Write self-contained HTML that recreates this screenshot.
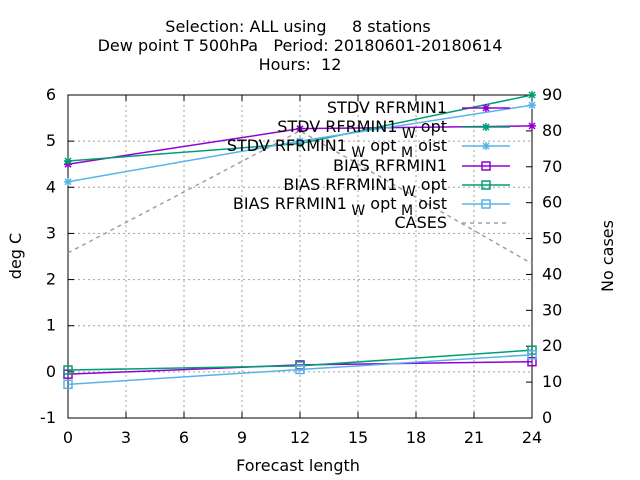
<!DOCTYPE html>
<html><head><meta charset="utf-8"><style>body{margin:0;background:#fff}svg{display:block}text{font-family:"DejaVu Sans","Liberation Sans",sans-serif;font-size:16px;fill:#000;white-space:pre}</style></head>
<body>
<svg id="c" width="640" height="480">
<g>
<text x="298" y="32" text-anchor="middle" xml:space="preserve">Selection: ALL using     8 stations</text>
<text x="300" y="51" text-anchor="middle" xml:space="preserve">Dew point T 500hPa   Period: 20180601-20180614</text>
<text x="300" y="70" text-anchor="middle" xml:space="preserve">Hours:  12</text>
</g>
<g id="grid"></g><g id="axes"></g><g id="series"></g><g id="legend"></g>
<text x="298" y="471" text-anchor="middle">Forecast length</text>
<text transform="translate(21,256) rotate(-90)" text-anchor="middle">deg C</text>
<text transform="translate(613,256) rotate(-90)" text-anchor="middle">No cases</text>
</svg>
<script>
const xTicks=[0,3,6,9,12,15,18,21,24];
const yTicks=[-1,0,1,2,3,4,5,6];
const y2Ticks=[0,10,20,30,40,50,60,70,80,90];
const steps=[0,12,24];
const stdv=[4.5,5.27,5.33];
const stdvW=[4.57,4.95,6.0];
const stdvWM=[4.12,5.0,5.78];
const bias=[-0.05,0.15,0.22];
const biasW=[0.04,0.13,0.47];
const biasWM=[-0.27,0.05,0.37];
const cases=[46,80,43];
const NS='http://www.w3.org/2000/svg';
const L=68,R=532,T=95,B=418;
const X=v=>L+(v-0)/24*(R-L);
const Y=v=>B-(v+1)/7*(B-T);
const Y2=v=>B-v/90*(B-T);
function mk(p,t,a){const e=document.createElementNS(NS,t);for(const k in a)e.setAttribute(k,a[k]);p.appendChild(e);return e;}
const g=document.getElementById('grid'),ax=document.getElementById('axes'),s=document.getElementById('series'),lg=document.getElementById('legend');
xTicks.forEach(t=>{const x=X(t);
 if(t>0&&t<24){const l=mk(g,'line',{x1:x,x2:x,y1:T,y2:B,stroke:'#a0a0a0','stroke-dasharray':'2,3'});}
 mk(ax,'line',{x1:x,x2:x,y1:B,y2:B-6,stroke:'#000'});mk(ax,'line',{x1:x,x2:x,y1:T,y2:T+6,stroke:'#000'});
 const tx=mk(ax,'text',{x:x,y:B+25,'text-anchor':'middle'});tx.textContent=t;});
yTicks.forEach(t=>{const y=Y(t);
 if(t>-1&&t<6){const l=mk(g,'line',{x1:L,x2:R,y1:y,y2:y,stroke:'#a0a0a0','stroke-dasharray':'2,3'});}
 mk(ax,'line',{x1:L,x2:L+6,y1:y,y2:y,stroke:'#000'});
 const tx=mk(ax,'text',{x:L-12,y:y+5,'text-anchor':'end'});tx.textContent=t;});
y2Ticks.forEach(t=>{const y=Y2(t);
 mk(ax,'line',{x1:R,x2:R-6,y1:y,y2:y,stroke:'#000'});
 const tx=mk(ax,'text',{x:R+10,y:y+5,'text-anchor':'start'});tx.textContent=t;});
mk(ax,'rect',{x:L,y:T,width:R-L,height:B-T,fill:'none',stroke:'#000'});
function marker(p,x,y,type,c){
 if(type==='sq')mk(p,'rect',{x:x-4,y:y-4,width:8,height:8,fill:'none',stroke:c,'stroke-width':1.5});
 else{mk(p,'path',{d:`M${x-4} ${y}H${x+4}M${x} ${y-4}V${y+4}M${x-3} ${y-3}L${x+3} ${y+3}M${x-3} ${y+3}L${x+3} ${y-3}`,stroke:c,'stroke-width':1.5});}
}
const series=[
 ['STDV RFRMIN1',stdv,'#9400d3','st','stdv-rfrmin1',null],
 ['STDV RFRMIN1',stdvW,'#009e73','st','stdv-rfrmin1-wopt','W opt'],
 ['STDV RFRMIN1',stdvWM,'#56b4e9','st','stdv-rfrmin1-wopt-moist','WM'],
 ['BIAS RFRMIN1',bias,'#9400d3','sq','bias-rfrmin1',null],
 ['BIAS RFRMIN1',biasW,'#009e73','sq','bias-rfrmin1-wopt','W opt'],
 ['BIAS RFRMIN1',biasWM,'#56b4e9','sq','bias-rfrmin1-wopt-moist','WM'],
];
const ly=[108,127,146,166,185,204,223];
series.forEach((sr,i)=>{
 const gg=mk(s,'g',{});
 mk(gg,'polyline',{points:steps.map((t,j)=>X(t)+','+Y(sr[1][j])).join(' '),fill:'none',stroke:sr[2],'stroke-width':1.5});
 steps.forEach((t,j)=>marker(gg,X(t),Y(sr[1][j]),sr[3],sr[2]));
 const le=mk(lg,'g',{});
 const tx=mk(le,'text',{x:447,y:ly[i]+5,'text-anchor':'end'});
 if(sr[5]===null)tx.textContent=sr[0];
 else if(sr[5]==='W opt')tx.innerHTML=sr[0]+'<tspan dy="6" font-size="14"> W</tspan><tspan dy="-6"> opt</tspan>';
 else tx.innerHTML=sr[0]+'<tspan dy="6" font-size="14"> W</tspan><tspan dy="-6"> opt</tspan><tspan dy="6" font-size="14"> M</tspan><tspan dy="-6"> oist</tspan>';
 mk(le,'line',{x1:462,x2:510,y1:ly[i],y2:ly[i],stroke:sr[2],'stroke-width':1.5});
 marker(le,486,ly[i],sr[3],sr[2]);
});
const cg=mk(s,'g',{});
mk(cg,'polyline',{points:steps.map((t,j)=>X(t)+','+Y2(cases[j])).join(' '),fill:'none',stroke:'#a0a0a0','stroke-width':1.5,'stroke-dasharray':'4,4'});
const ce=mk(lg,'g',{});
const ct=mk(ce,'text',{x:447,y:ly[6]+5,'text-anchor':'end'});ct.textContent='CASES';
mk(ce,'line',{x1:462,x2:510,y1:ly[6],y2:ly[6],stroke:'#a0a0a0','stroke-width':1.5,'stroke-dasharray':'4,4'});
</script>
</body></html>
